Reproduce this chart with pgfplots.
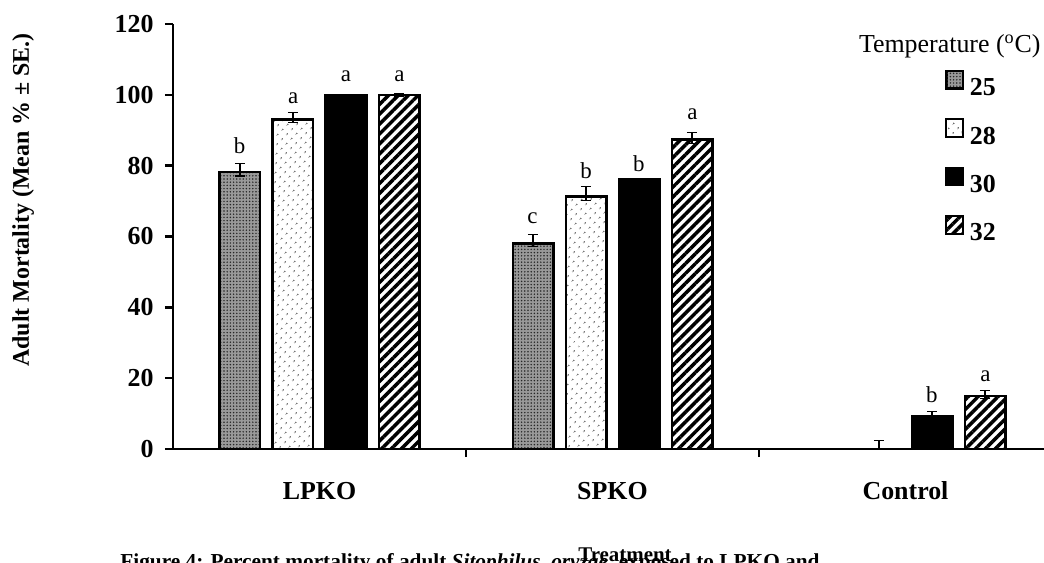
\documentclass[border=0pt]{standalone}
\usepackage{fontspec}
\setmainfont{Liberation Serif}
\usepackage{pgfplots}
\usepackage{pgfplotstable}
\pgfplotsset{compat=1.18}
\usetikzlibrary{patterns,patterns.meta}

\pgfplotstableread{
x y ep em
0 78.2 2.4 1.1
1 58.1 2.5 1.0
2 0 0 0
}\tA
\pgfplotstableread{
x y ep em
0 93.1 1.9 0.9
1 71.3 2.8 1.2
2 0 2.5 0
}\tB
\pgfplotstableread{
x y ep em
0 100 0 0
1 76.2 0 0
2 9.1 1.4 0.7
}\tC
\pgfplotstableread{
x y ep em
0 100 0.4 0.5
1 87.4 1.9 1.1
2 15.0 1.5 0.8
}\tD

\tikzset{
  s25/.style={draw=black, line width=1.3bp, preaction={fill=black!40}, pattern={Dots[distance=1.6bp,radius=0.42bp]}, pattern color=black!85},
  s28/.style={draw=black, line width=1.3bp, pattern={Dots[distance=3.6bp,radius=0.55bp,angle=45]}, pattern color=black!65},
  s30/.style={draw=black, line width=1.3bp, fill=black},
  s32/.style={draw=black, line width=1.3bp, pattern={Lines[angle=45,distance=3.5bp,line width=1.75bp]}, pattern color=black},
}

\begin{document}
\begin{tikzpicture}
\path[use as bounding box] (-86.5bp,-57bp) rectangle (435.5bp,224.5bp);
\begin{axis}[
  at={(0,0)}, anchor=south west,
  scale only axis, width=439.5bp, height=212.5bp,
  xmin=-0.5, xmax=2.5, ymin=0, ymax=120,
  clip=false,
  axis lines*=left,
  axis line style={line width=1.3bp, black},
  ybar, bar width=20.2bp,
  xtick={0.5,1.5}, xticklabels={},
  ytick={0,20,...,120},
  tick align=outside,
  major tick length=4bp,
  major tick style={line width=1.3bp, black},
  /pgf/number format/assume math mode=true,
  yticklabel style={font=\bfseries\fontsize{13}{15}\selectfont, inner sep=0pt, anchor=east, xshift=-5.5bp},
  error bars/y dir=both, error bars/y explicit,
  error bars/error bar style={line width=0.6bp, black},
  error bars/error mark options={rotate=90, mark size=2.6bp, line width=0.6bp, black},
  legend style={at={(rel axis cs:0.8715,0.902)}, anchor=north west, draw=none, fill=none,
    font=\bfseries\fontsize{13}{15}\selectfont, nodes={inner sep=0pt}, row sep=9.9bp, column sep=3bp},
  legend cell align=left,
]
\addplot[s25, bar shift=-39.75bp, legend image code/.code={\draw[s25, line width=0.9bp] (0bp,0bp) rectangle (8.3bp,8.8bp);}]
  table[x=x, y=y, y error plus=ep, y error minus=em] {\tA};
\addplot[s28, bar shift=-13.25bp, legend image code/.code={\draw[s28, line width=0.9bp] (0bp,0bp) rectangle (8.3bp,8.8bp);}]
  table[x=x, y=y, y error plus=ep, y error minus=em] {\tB};
\addplot[s30, bar shift=13.25bp, legend image code/.code={\draw[s30, line width=0.9bp] (0bp,0bp) rectangle (8.3bp,8.8bp);}]
  table[x=x, y=y, y error plus=ep, y error minus=em] {\tC};
\addplot[s32, bar shift=39.75bp, legend image code/.code={\draw[s32, line width=0.9bp] (0bp,0bp) rectangle (8.3bp,8.8bp);}]
  table[x=x, y=y, y error plus=ep, y error minus=em] {\tD};
\legend{25,28,30,32}

% significance letters
\begin{scope}[every node/.style={font=\fontsize{11.5}{13}\selectfont, anchor=base, inner sep=0pt}]
\node at (axis cs:-0.273,83.3) {b};
\node at (axis cs:-0.090,97.5) {a};
\node at (axis cs:0.090,103.8) {a};
\node at (axis cs:0.273,103.8) {a};
\node at (axis cs:0.727,63.6) {c};
\node at (axis cs:0.910,76.5) {b};
\node at (axis cs:1.090,78.3) {b};
\node at (axis cs:1.273,93.0) {a};
\node at (axis cs:2.090,13.1) {b};
\node at (axis cs:2.273,19.2) {a};
\end{scope}

% category labels
\begin{scope}[every node/.style={font=\bfseries\fontsize{13}{15}\selectfont, anchor=base, inner sep=0pt}]
\node[yshift=-25bp] at (axis cs:0,0) {LPKO};
\node[yshift=-25bp] at (axis cs:1,0) {SPKO};
\node[yshift=-25bp] at (axis cs:2,0) {Control};
\end{scope}

% legend title
\node[anchor=base east, inner sep=0pt, font=\fontsize{13}{15}\selectfont] at (rel axis cs:0.9875,0.934) {Temperature (\textsuperscript{o}C)};

% axis titles
\node[rotate=90, anchor=center, inner sep=0pt, font=\bfseries\fontsize{12}{14}\selectfont] at (rel axis cs:-0.1706,0.586) {Adult Mortality (Mean \% ± SE.)};
\node[anchor=base west, inner sep=0pt, font=\bfseries\fontsize{10.7}{12}\selectfont] at ([yshift=-59.5bp]axis cs:-0.681,0) {Figure 4: Percent mortality of adult \textit{Sitophilus~~oryzae}~~exposed to LPKO and};
\node[anchor=base, inner sep=0pt, font=\bfseries\fontsize{10.5}{12}\selectfont] at ([yshift=-56.25bp]axis cs:1.0427,0) {Treatment};
\end{axis}
\end{tikzpicture}
\end{document}
